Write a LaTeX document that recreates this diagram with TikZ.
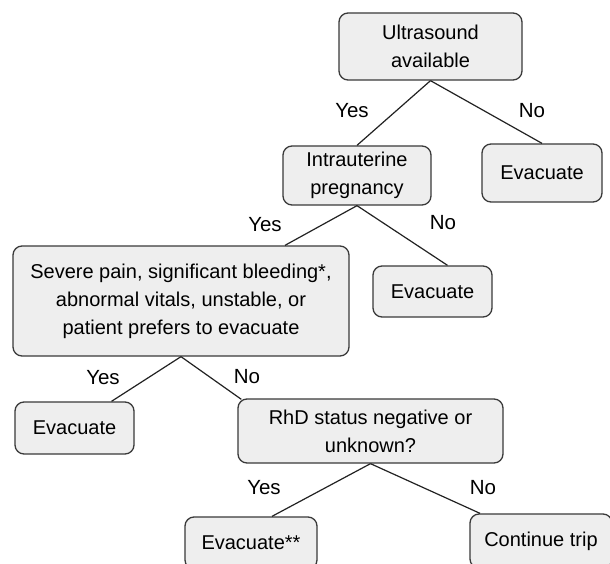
\documentclass[tikz,border=0pt]{standalone}
\usepackage{fontspec}
\setmainfont{Liberation Sans}
\usetikzlibrary{calc}
\definecolor{boxfill}{HTML}{EEEEEE}
\definecolor{boxline}{HTML}{3A3A3A}
\definecolor{edgeline}{HTML}{222222}
\tikzset{
  box/.style={draw=boxline, fill=boxfill, line width=1.3pt, rounded corners=9pt,
    inner sep=0pt, align=center, font=\fontsize{20}{28}\selectfont},
  lbl/.style={inner sep=0pt, font=\fontsize{20.5}{24}\selectfont},
  conn/.style={draw=edgeline, line width=1.2pt},
}
\begin{document}
\begin{tikzpicture}[x=1pt,y=-1pt]
\clip (0,0) rectangle (610,564);
\fill[white] (0,0) rectangle (610,564);
\node[box, minimum width=183pt, minimum height=67pt] (n1) at (430.5,46.5) {Ultrasound\\available};
\node[box, minimum width=148pt, minimum height=59pt] (n2) at (357,175.5) {Intrauterine\\pregnancy};
\node[box, minimum width=120pt, minimum height=58pt] (n3) at (542,173) {Evacuate};
\node[box, minimum width=336pt, minimum height=110pt] (n4) at (181,301) {Severe pain, significant bleeding*,\\abnormal vitals, unstable, or\\patient prefers to evacuate};
\node[box, minimum width=119pt, minimum height=51pt] (n5) at (432.5,291.5) {Evacuate};
\node[box, minimum width=119pt, minimum height=52pt] (n6) at (74.5,428) {Evacuate};
\node[box, minimum width=265pt, minimum height=64pt] (n7) at (370.5,431) {RhD status negative or\\unknown?};
\node[box, minimum width=132pt, minimum height=52pt] (n8) at (251,543) {Evacuate**};
\node[box, minimum width=142pt, minimum height=54pt] (n9) at (541,541) {Continue trip};

\draw[conn] (n1.south) -- (n2.north);
\draw[conn] (n1.south) -- (n3.north);
\draw[conn] (n2.south) -- ($(n4.north)+(104,0)$);
\draw[conn] (n2.south) -- ($(n5.north)+(15,0)$);
\draw[conn] (n4.south) -- ($(n6.north)+(37,0)$);
\draw[conn] (n4.south) -- ($(n7.north west)+(4,1)$);
\draw[conn] (n7.south) -- ($(n8.north)+(21,0)$);
\draw[conn] (n7.south) -- ($(n9.north)+(-61,0)$);

\node[lbl] (y1) at (352,111) {Yes};
\node[lbl] (o1) at (532,111) {No};
\node[lbl] (y2) at (265,225) {Yes};
\node[lbl] (o2) at (443,223) {No};
\node[lbl] (y3) at (103,378) {Yes};
\node[lbl] (o3) at (247,377) {No};
\node[lbl] (y4) at (264,488) {Yes};
\node[lbl] (o4) at (483,488) {No};
\end{tikzpicture}
\end{document}
